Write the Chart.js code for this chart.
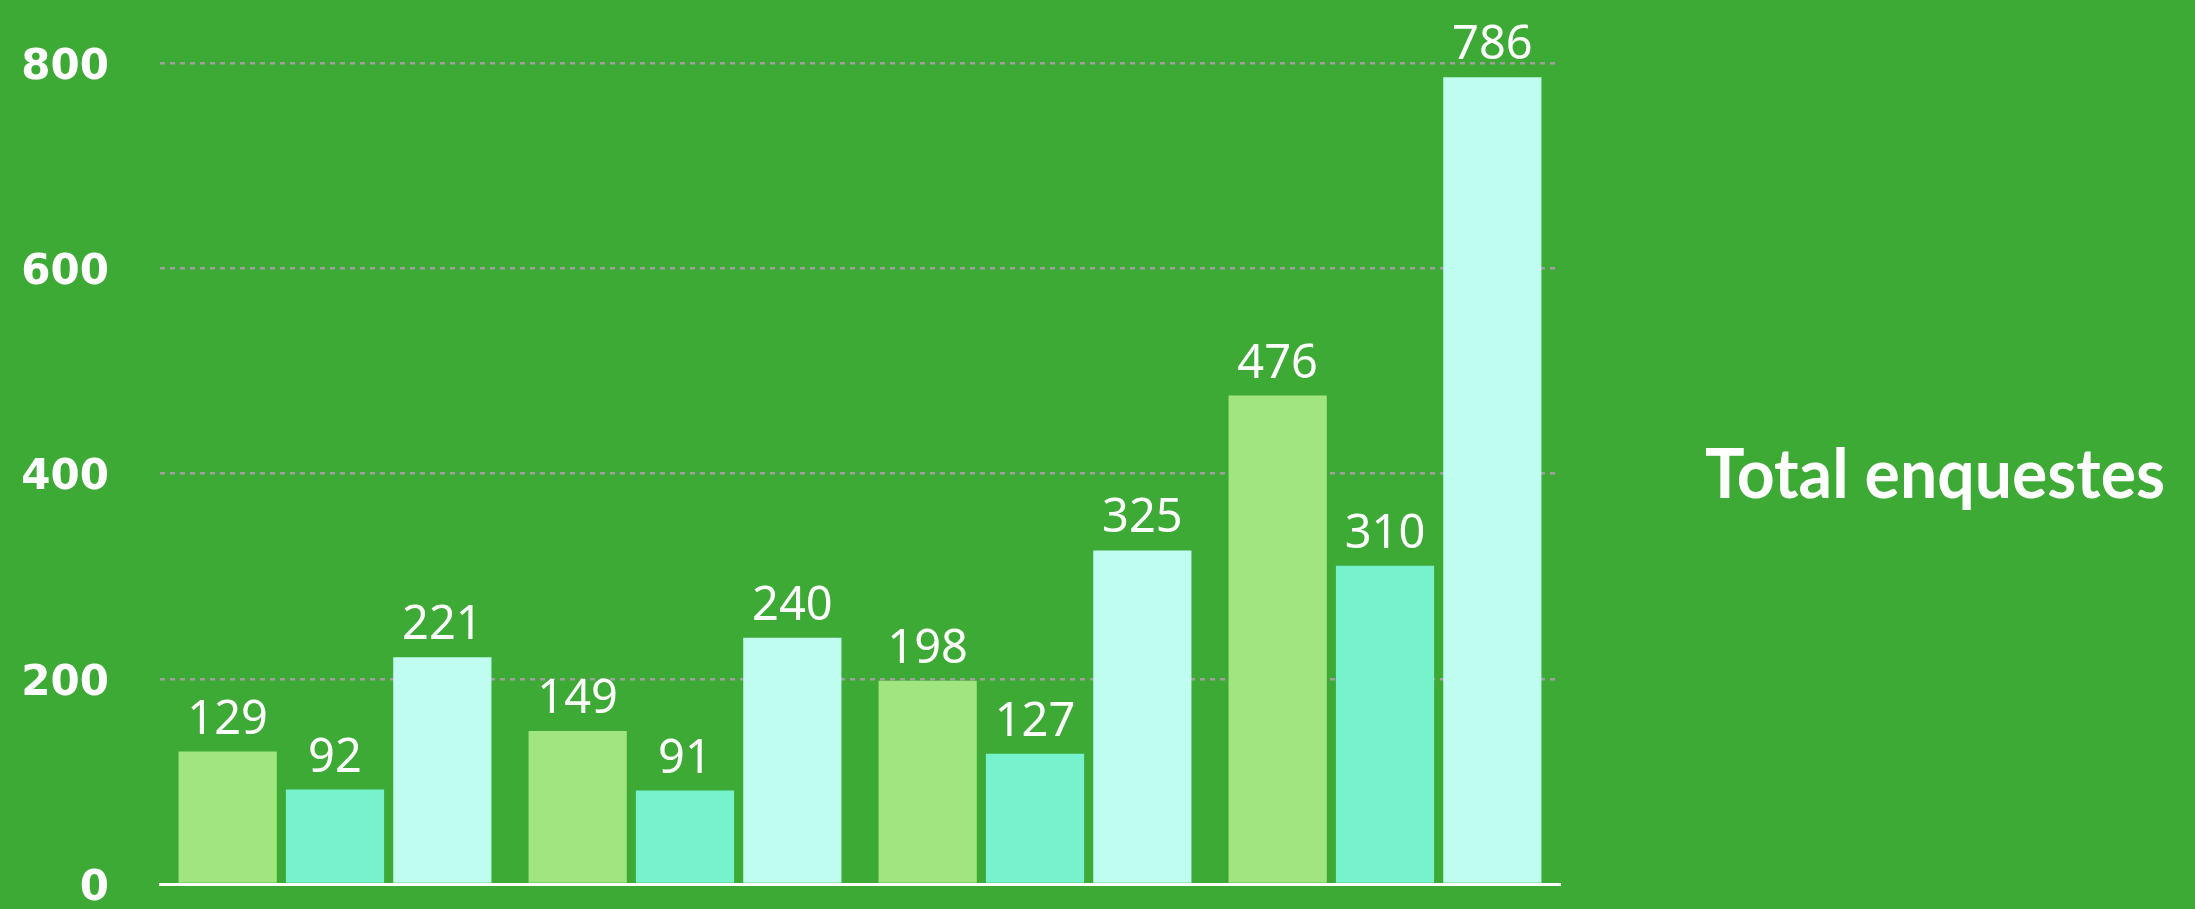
<!DOCTYPE html>
<html>
<head>
<meta charset="utf-8">
<script src="https://cdn.jsdelivr.net/npm/chart.js@4"></script>
<style>
  html, body { margin: 0; padding: 0; background: #3eaa36; }
  #wrap { width: 2195px; height: 909px; }
</style>
</head>
<body>
<div id="wrap"><canvas id="chart"></canvas></div>
<script>
/* global Chart */

const categories = ['Grup 1', 'Grup 2', 'Grup 3', 'Grup 4']
const seriesA = [129, 149, 198, 476]
const seriesB = [92, 91, 127, 310]
const seriesC = [221, 240, 325, 786]
const yTicks = [0, 200, 400, 600, 800]
const sideText = 'Total enquestes'

const colors = ['#a0e57f', '#76f2cd', '#bffdf0']

// value on top of every bar
const valueLabels = {
  id: 'valueLabels',
  afterDatasetsDraw (chart) {
    const { ctx } = chart
    ctx.save()
    ctx.fillStyle = '#fff'
    ctx.font = '47px "Noto Sans"'
    ctx.textAlign = 'center'
    ctx.textBaseline = 'alphabetic'
    chart.data.datasets.forEach((ds, i) => {
      chart.getDatasetMeta(i).data.forEach((bar, j) => {
        ctx.fillText(ds.data[j], bar.x, bar.y - 18)
      })
    })
    ctx.restore()
  }
}

// big label on the right side
const sideTitle = {
  id: 'sideTitle',
  afterDraw (chart) {
    const { ctx, chartArea } = chart
    ctx.save()
    ctx.fillStyle = '#fff'
    ctx.font = 'bold 68px Lato'
    ctx.textAlign = 'left'
    ctx.textBaseline = 'alphabetic'
    const y = (chartArea.top + chartArea.bottom) / 2 + 24
    ctx.fillText(sideText, chartArea.right + 145, y, 460)
    ctx.restore()
  }
}

new Chart(document.getElementById('chart'), {
  type: 'bar',
  data: {
    labels: categories,
    datasets: [seriesA, seriesB, seriesC].map((data, i) => ({
      label: 'S' + (i + 1),
      data,
      backgroundColor: colors[i],
      categoryPercentage: 0.92,
      barPercentage: 0.915
    }))
  },
  options: {
    responsive: true,
    maintainAspectRatio: false,
    animation: false,
    layout: { padding: { left: 20, right: 635, top: 63, bottom: 25 } },
    plugins: {
      legend: { display: false },
      tooltip: { enabled: false }
    },
    scales: {
      x: {
        grid: { display: false },
        ticks: { display: false },
        border: { display: true, color: '#ffffff', width: 3 },
        afterFit: s => { s.height = 0 }
      },
      y: {
        min: 0,
        max: 800,
        afterBuildTicks: s => { s.ticks = yTicks.map(v => ({ value: v })) },
        afterFit: s => { s.width = 140; s.paddingTop = 0; s.paddingBottom = 0 },
        ticks: {
          color: '#fff',
          padding: 51,
          labelOffset: 5,
          font: { family: '"DejaVu Sans"', size: 42, weight: 'bold', lineHeight: 1 }
        },
        grid: {
          drawTicks: false,
          lineWidth: 2.5,
          color: c => (c.tick && c.tick.value === 0 ? 'rgba(0,0,0,0)' : '#a39ca3')
        },
        border: { display: false, dash: [5, 5] }
      }
    }
  },
  plugins: [valueLabels, sideTitle]
})
</script>
</body>
</html>
